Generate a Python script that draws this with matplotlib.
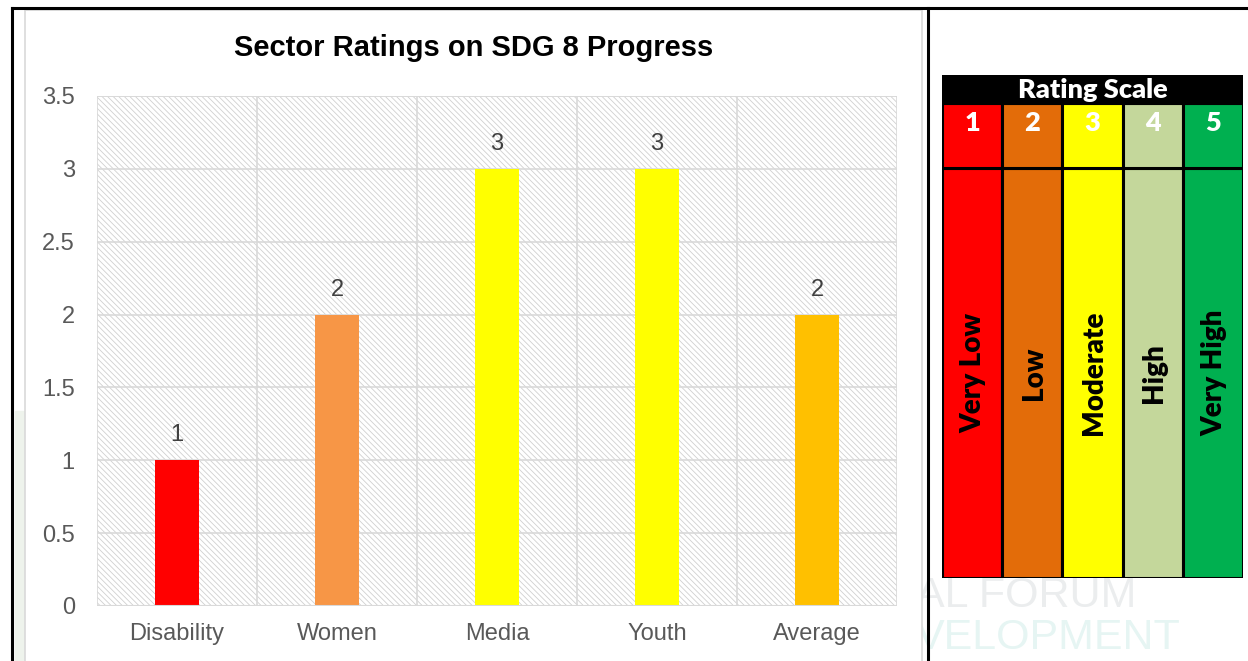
import matplotlib
matplotlib.use('Agg')
import matplotlib.pyplot as plt
from matplotlib.lines import Line2D
from matplotlib.patches import Rectangle

# chart data
sectors = ['Disability', 'Women', 'Media', 'Youth', 'Average']
ratings = [1, 2, 3, 3, 2]
bar_colors = ['#FF0000', '#F79646', '#FFFF00', '#FFFF00', '#FFC000']
y_ticks = [0, 0.5, 1, 1.5, 2, 2.5, 3, 3.5]
y_tick_labels = ['0', '0.5', '1', '1.5', '2', '2.5', '3', '3.5']

# rating scale table
scale_nums = ['1', '2', '3', '4', '5']
scale_names = ['Very Low', 'Low', 'Moderate', 'High', 'Very High']
scale_colors = ['#FF0000', '#E36C09', '#FFFF00', '#C4D79B', '#00B050']

plt.rcParams['hatch.color'] = '#d0d0d0'
plt.rcParams['hatch.linewidth'] = 0.6
plt.rcParams['font.family'] = ['Liberation Sans', 'DejaVu Sans']

W, H = 1248, 661
fig = plt.figure(figsize=(W / 100, H / 100), dpi=100)


def box(x0, y0, x1, y1):
    # pixel box (top-left origin) -> figure fraction rect
    return [x0 / W, 1 - y1 / H, (x1 - x0) / W, (y1 - y0) / H]


def px(x, y):
    return x / W, 1 - y / H


# faint watermark behind everything
fig.text(*px(916, 596), 'AL FORUM', fontsize=31, color='#ebedee', va='center',
         ha='left', zorder=0)
fig.text(*px(916, 638), 'VELOPMENT', fontsize=31, color='#e6f5f3', va='center',
         ha='left', zorder=0)
fig.add_artist(Rectangle(px(15, 661), 9 / W, 250 / H, transform=fig.transFigure,
                         color='#eef3ec', zorder=0))

# page lines of the surrounding table
fig.add_artist(Line2D([12 / W, 1], [1 - 8 / H] * 2, color='black', lw=2.2, zorder=5))
fig.add_artist(Line2D([12 / W] * 2, [0, 1 - 8 / H], color='black', lw=2.2, zorder=5))
fig.add_artist(Line2D([928 / W] * 2, [0, 1 - 8 / H], color='black', lw=2.2, zorder=5))

# chart frame
fig.add_artist(Rectangle(px(25, 700), 897 / W, 690 / H, transform=fig.transFigure,
                         facecolor='white', edgecolor='#d9d9d9', lw=1.2, zorder=0.5))

ax = fig.add_axes(box(97, 96, 897, 606))
ax.set_zorder(2)
ax.set_facecolor('white')
ax.add_patch(Rectangle((0, 0), 1, 1, transform=ax.transAxes, facecolor='white',
                       edgecolor='#d0d0d0', hatch='\\\\\\\\\\\\', lw=0, zorder=0))

x = list(range(len(sectors)))
bars = ax.bar(x, ratings, width=0.275, color=bar_colors, zorder=3)
ax.set_xlim(-0.5, len(sectors) - 0.5)
ax.set_ylim(0, 3.5)
ax.set_yticks(y_ticks)
ax.set_yticklabels(y_tick_labels)
ax.set_xticks(x)
ax.set_xticklabels(sectors)
ax.tick_params(length=0, labelsize=17, colors='#595959')
ax.tick_params(axis='y', pad=16)
ax.tick_params(axis='x', pad=12)
for t in y_ticks:
    ax.axhline(t, color='#d9d9d9', lw=1.2, zorder=1)
for b in [0.5, 1.5, 2.5, 3.5]:
    ax.axvline(b, color='#d9d9d9', lw=1.2, zorder=1)
for s in ax.spines.values():
    s.set_visible(False)
ax.axhline(0, color='#d9d9d9', lw=1.5, zorder=4)
ax.axvline(-0.5, color='#d9d9d9', lw=1.2, zorder=1)
ax.axvline(len(sectors) - 0.5, color='#d9d9d9', lw=1.2, zorder=1)
ax.axhline(3.5, color='#d9d9d9', lw=1.2, zorder=1)
ax.bar_label(bars, labels=[str(r) for r in ratings], padding=10, fontsize=17,
             color='#404040')
# title is centred on the chart frame, not on the plot area
ax.set_title('Sector Ratings on SDG 8 Progress', fontsize=21, fontweight='bold',
             color='black', pad=28.5, x=(474 - 97) / 800)

# rating scale table
tx = fig.add_axes(box(942, 75, 1243, 578))
tx.set_zorder(3)
tx.set_xlim(-0.5, 4.5)
tx.set_ylim(0, 503)
tx.axis('off')
cols = list(range(len(scale_nums)))
tx.bar(cols, [410] * 5, bottom=0, width=1, color=scale_colors, edgecolor='black', lw=2.2)
tx.bar(cols, [65] * 5, bottom=410, width=1, color=scale_colors, edgecolor='black', lw=2.2)
tx.bar([2], [28], bottom=475, width=5, color='black', edgecolor='black', lw=2.2)
tx.text(2, 488, 'Rating Scale', color='white', fontsize=19.5, fontweight='heavy',
        family='Lato', ha='center', va='center')
for c, n, name in zip(cols, scale_nums, scale_names):
    tx.text(c, 467, n, color='white', fontsize=19.5, fontweight='heavy', family='Lato',
            ha='center', va='top')
    tx.text(c + 0.02, 205, name, color='black', fontsize=20, fontweight='heavy',
            family='Lato', ha='center', va='center', rotation=90)

fig.savefig('out.png', dpi=100)
